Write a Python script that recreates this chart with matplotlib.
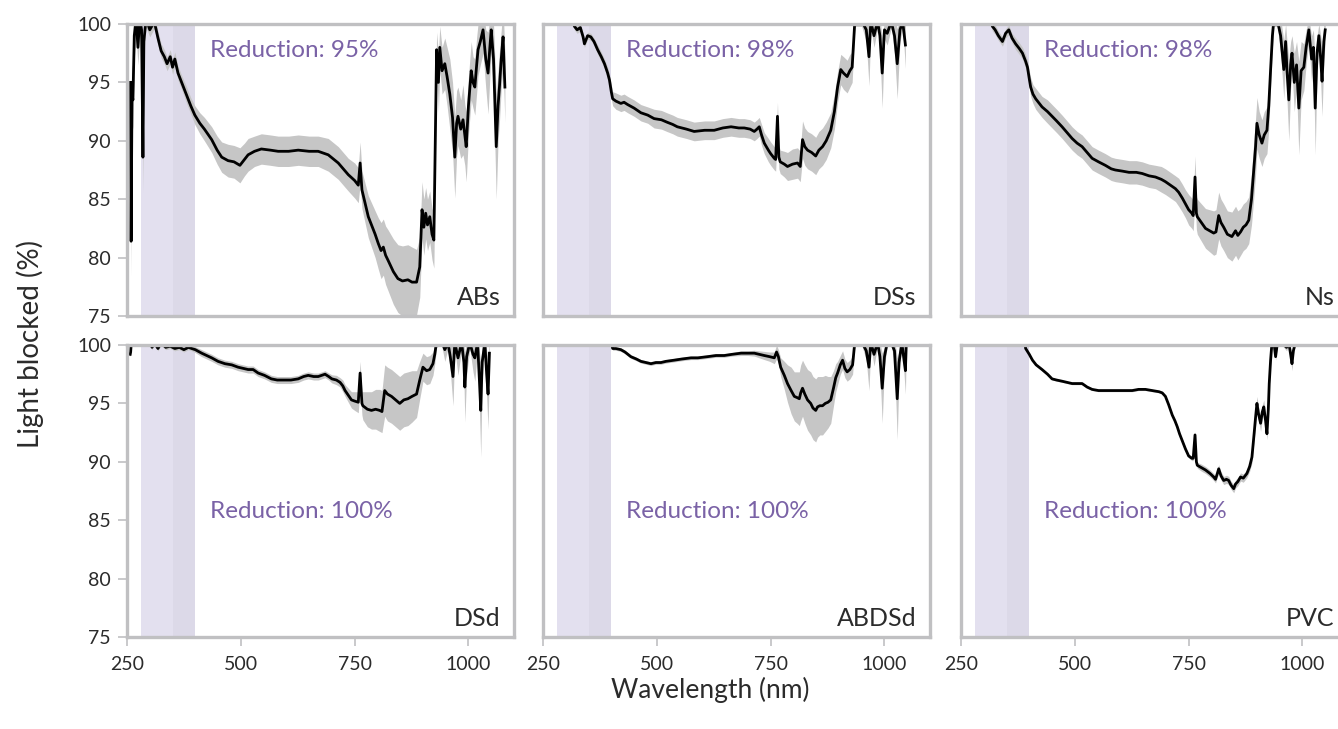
import numpy as np
import matplotlib
matplotlib.use('Agg')
import matplotlib.pyplot as plt

plt.rcParams['font.family'] = ['Lato', 'DejaVu Sans']
plt.rcParams['font.weight'] = 'normal'

# ABs
abs_wl = [258, 259, 261, 263, 266, 270, 274, 278, 282, 285,
          287, 292, 300, 310, 318, 325, 332, 338, 345, 350,
          355, 362, 370, 380, 390, 399, 410, 420, 436, 448,
          458, 472, 485, 498, 508, 516, 530, 545, 565, 582,
          605, 626, 650, 670, 692, 714, 736, 750, 758, 762,
          766, 780, 795, 802, 808, 813, 818, 823, 835, 845,
          855, 867, 876, 886, 893, 898, 902, 906, 910, 915,
          920, 924, 930, 934, 937, 942, 948, 953, 959, 965,
          970, 974, 977, 983, 988, 992, 995, 1000, 1006, 1010,
          1014, 1018, 1021, 1026, 1032, 1038, 1043, 1047, 1050, 1055,
          1061, 1065, 1068, 1072, 1076, 1080]
abs_mean = [95.0, 81.4, 94.0, 93.5, 99.0, 100.5, 98.0, 100.5, 99.5, 88.6,
            98.5, 100.5, 99.5, 100.2, 98.8, 97.7, 97.2, 96.6, 97.2, 96.3,
            97.0, 95.8, 95.0, 94.0, 93.0, 92.2, 91.5, 91.0, 90.1, 89.2,
            88.6, 88.3, 88.2, 87.9, 88.4, 88.8, 89.1, 89.3, 89.2, 89.1,
            89.1, 89.2, 89.1, 89.1, 88.8, 88.1, 87.1, 86.6, 86.2, 88.1,
            85.8, 83.5, 82.0, 81.2, 80.6, 80.9, 80.2, 79.8, 78.8, 78.2,
            78.0, 78.1, 77.9, 77.9, 79.2, 84.1, 82.6, 83.8, 82.8, 83.5,
            82.0, 81.5, 97.8, 95.0, 98.0, 96.0, 96.6, 95.5, 94.0, 92.0,
            88.6, 91.5, 92.1, 91.0, 91.8, 90.5, 89.5, 93.0, 96.0, 95.0,
            94.6, 96.5, 97.8, 98.5, 99.5, 97.0, 95.8, 98.0, 99.5, 97.0,
            89.5, 93.0, 94.6, 97.0, 98.9, 94.6]
abs_sd = [3.0, 3.0, 2.5, 2.5, 2.0, 1.5, 1.5, 1.5, 1.2, 3.0,
          1.0, 0.8, 0.6, 0.6, 0.6, 0.6, 0.6, 0.6, 0.6, 0.6,
          0.6, 0.6, 0.6, 0.7, 0.7, 0.8, 0.9, 1.0, 1.1, 1.2,
          1.3, 1.4, 1.4, 1.5, 1.4, 1.4, 1.3, 1.3, 1.3, 1.3,
          1.3, 1.3, 1.3, 1.3, 1.4, 1.4, 1.4, 1.5, 1.5, 1.8,
          1.6, 1.8, 2.0, 2.2, 2.4, 2.4, 2.5, 2.6, 2.8, 2.9,
          3.0, 3.0, 3.0, 2.8, 2.6, 2.4, 2.4, 2.2, 2.2, 2.2,
          2.2, 2.4, 1.5, 2.5, 1.8, 2.0, 2.2, 2.5, 3.0, 3.0,
          3.5, 2.8, 2.5, 2.5, 3.0, 2.6, 3.0, 2.5, 2.5, 2.2,
          2.4, 2.4, 2.2, 2.0, 2.0, 2.5, 3.5, 2.5, 2.0, 3.0,
          4.5, 3.0, 3.0, 2.5, 2.5, 3.0]

# DSs
dss_wl = [315, 319, 325, 332, 338, 341, 348, 355, 362, 370,
          378, 385, 392, 396, 400, 403, 410, 421, 428, 436,
          450, 465, 480, 494, 510, 522, 535, 545, 565, 582,
          605, 626, 645, 663, 680, 692, 705, 714, 720, 725,
          730, 736, 745, 750, 758, 761, 765, 768, 771, 780,
          787, 798, 809, 815, 820, 825, 831, 840, 849, 856,
          864, 872, 882, 890, 897, 904, 910, 918, 924, 929,
          935, 950, 960, 966, 970, 977, 985, 990, 995, 1000,
          1006, 1015, 1022, 1028, 1034, 1040, 1046]
dss_mean = [100.3, 99.8, 99.5, 99.7, 98.9, 98.3, 99.0, 98.9, 98.5, 97.8,
            97.2, 96.6, 95.8, 95.2, 94.2, 93.6, 93.4, 93.2, 93.3, 93.1,
            92.8, 92.4, 92.2, 91.9, 91.8, 91.6, 91.4, 91.2, 91.0, 90.8,
            90.9, 90.9, 91.1, 91.2, 91.1, 91.1, 91.0, 90.8, 91.0, 91.2,
            90.5, 89.8, 89.2, 88.9, 88.5, 88.4, 92.1, 88.6, 88.2, 88.0,
            87.8, 88.0, 88.1, 87.8, 90.1, 89.5, 89.2, 89.0, 88.7, 89.2,
            89.5, 90.0, 90.9, 92.5, 94.6, 96.1, 95.8, 95.5, 96.0, 96.3,
            100.3, 100.3, 99.5, 97.2, 100.2, 99.0, 100.2, 99.0, 95.8, 99.5,
            99.2, 100.2, 99.0, 96.6, 99.5, 100.2, 98.2]
dss_sd = [0.3, 0.3, 0.3, 0.3, 0.3, 0.3, 0.3, 0.3, 0.3, 0.4,
          0.4, 0.4, 0.5, 0.5, 0.6, 0.6, 0.7, 0.7, 0.7, 0.7,
          0.7, 0.7, 0.7, 0.8, 0.8, 0.8, 0.8, 0.8, 0.8, 0.8,
          0.8, 0.8, 0.8, 0.8, 0.8, 0.8, 0.8, 0.8, 0.8, 0.8,
          0.9, 0.9, 1.0, 1.0, 1.0, 1.0, 1.2, 1.0, 1.0, 1.1,
          1.2, 1.3, 1.3, 1.3, 1.6, 1.6, 1.6, 1.6, 1.6, 1.6,
          1.6, 1.6, 1.5, 1.5, 1.3, 1.3, 1.4, 1.4, 1.4, 1.3,
          0.5, 0.5, 1.0, 2.5, 0.5, 1.0, 0.5, 1.5, 3.0, 0.8,
          1.0, 0.5, 1.5, 3.0, 1.0, 0.5, 2.0]

# Ns
ns_wl = [315, 319, 325, 332, 341, 348, 355, 362, 370, 378,
         385, 392, 396, 400, 403, 408, 414, 420, 428, 440,
         450, 460, 472, 483, 494, 505, 516, 527, 538, 552,
         567, 580, 589, 605, 619, 635, 648, 663, 677, 690,
         699, 710, 721, 728, 736, 743, 750, 757, 760, 764,
         767, 769, 778, 787, 796, 805, 810, 816, 821, 827,
         835, 845, 853, 858, 864, 870, 876, 882, 888, 893,
         897, 900, 905, 911, 916, 922, 926, 930, 934, 937,
         945, 952, 959, 963, 966, 970, 974, 977, 982, 987,
         992, 997, 1003, 1008, 1014, 1020, 1024, 1028, 1032, 1036,
         1040, 1043, 1047, 1050]
ns_mean = [100.3, 99.8, 99.5, 99.0, 98.5, 99.2, 99.5, 98.8, 98.3, 97.9,
           97.5, 96.8, 96.3, 95.3, 94.6, 94.0, 93.6, 93.3, 92.9, 92.5,
           92.1, 91.7, 91.2, 90.7, 90.2, 89.8, 89.5, 89.0, 88.5, 88.2,
           87.9, 87.6, 87.5, 87.4, 87.3, 87.3, 87.2, 87.0, 86.9, 86.7,
           86.5, 86.2, 85.9, 85.6, 85.1, 84.6, 84.1, 83.8, 83.6, 86.9,
           83.8, 83.5, 83.0, 82.5, 82.3, 82.1, 82.2, 83.6, 83.0, 82.6,
           82.0, 81.8, 82.3, 81.9, 82.2, 82.6, 82.8, 83.2, 85.0, 87.5,
           89.5, 91.5, 90.5, 89.8, 90.5, 90.9, 93.0, 96.1, 99.0, 100.3,
           100.3, 99.0, 96.1, 98.5, 96.0, 93.5, 96.5, 97.5, 95.0, 96.5,
           92.8, 96.0, 96.3, 98.0, 99.5, 97.0, 98.0, 92.8, 97.5, 99.0,
           97.0, 95.1, 98.5, 99.5]
ns_sd = [0.4, 0.4, 0.4, 0.4, 0.4, 0.4, 0.4, 0.4, 0.5, 0.5,
         0.5, 0.6, 0.6, 0.7, 0.8, 0.8, 0.9, 0.9, 0.9, 1.0,
         1.0, 1.0, 1.0, 1.0, 1.0, 1.0, 1.0, 1.0, 1.0, 1.0,
         1.0, 1.0, 1.0, 1.0, 1.0, 1.0, 1.0, 1.0, 1.0, 1.1,
         1.1, 1.1, 1.1, 1.2, 1.2, 1.2, 1.3, 1.3, 1.3, 1.8,
         1.4, 1.5, 1.6, 1.7, 1.8, 1.9, 1.9, 2.0, 2.0, 2.0,
         2.0, 2.1, 2.1, 2.1, 2.0, 2.0, 2.0, 2.0, 2.2, 2.4,
         2.4, 2.2, 2.0, 2.0, 2.0, 2.0, 2.0, 1.5, 1.0, 0.5,
         0.5, 1.5, 2.5, 1.5, 2.5, 3.5, 2.0, 1.5, 2.5, 2.0,
         4.0, 2.5, 2.0, 1.5, 1.0, 2.0, 1.5, 4.0, 1.5, 1.0,
         2.0, 3.0, 1.5, 1.0]

# DSd
dsd_wl = [257, 258, 260, 300, 305, 310, 318, 325, 335, 345,
          355, 365, 375, 385, 392, 400, 414, 425, 436, 450,
          465, 480, 494, 505, 516, 527, 538, 552, 567, 580,
          597, 610, 626, 638, 648, 660, 670, 685, 693, 700,
          710, 718, 724, 729, 736, 743, 750, 758, 762, 766,
          768, 778, 787, 796, 805, 810, 816, 822, 831, 840,
          849, 858, 867, 876, 886, 893, 900, 908, 915, 922,
          926, 930, 940, 948, 955, 960, 966, 970, 977, 985,
          990, 992, 996, 1003, 1010, 1014, 1020, 1024, 1027, 1030,
          1036, 1040, 1043, 1046]
dsd_mean = [99.2, 99.4, 100.5, 100.5, 99.8, 100.2, 99.7, 100.2, 99.8, 99.9,
            99.7, 99.8, 99.6, 99.8, 99.7, 99.6, 99.3, 99.1, 98.9, 98.6,
            98.4, 98.3, 98.1, 98.0, 97.9, 97.9, 97.6, 97.4, 97.1, 97.0,
            97.0, 97.0, 97.1, 97.3, 97.4, 97.3, 97.3, 97.5, 97.3, 97.1,
            97.0, 96.8, 96.5, 96.1, 95.7, 95.3, 95.2, 95.1, 97.6, 95.0,
            94.8, 94.5, 94.4, 94.5, 94.4, 94.3, 96.1, 95.8, 95.6, 95.3,
            95.0, 95.3, 95.4, 95.6, 95.8, 97.0, 98.1, 97.8, 97.9, 98.4,
            99.2, 100.3, 100.5, 99.6, 100.2, 99.0, 97.3, 100.2, 98.9, 100.2,
            98.5, 96.4, 99.0, 100.2, 99.2, 98.9, 100.2, 97.0, 94.4, 98.5,
            100.2, 97.5, 95.8, 99.3]
dsd_sd = [0.2, 0.2, 0.2, 0.2, 0.2, 0.2, 0.2, 0.2, 0.2, 0.2,
          0.2, 0.2, 0.2, 0.2, 0.2, 0.25, 0.3, 0.3, 0.3, 0.3,
          0.3, 0.3, 0.3, 0.3, 0.3, 0.3, 0.3, 0.3, 0.3, 0.3,
          0.3, 0.3, 0.3, 0.3, 0.3, 0.3, 0.3, 0.3, 0.3, 0.35,
          0.4, 0.4, 0.5, 0.5, 0.6, 0.7, 0.8, 0.9, 1.0, 1.0,
          1.2, 1.5, 1.6, 1.7, 1.8, 1.8, 2.2, 2.3, 2.3, 2.3,
          2.3, 2.3, 2.3, 2.2, 2.0, 1.6, 1.2, 1.2, 1.2, 1.0,
          0.8, 0.5, 0.3, 1.0, 0.5, 1.2, 2.5, 0.5, 1.5, 0.5,
          1.5, 3.0, 1.5, 0.5, 1.5, 2.0, 0.5, 2.5, 4.0, 1.5,
          0.5, 2.0, 3.0, 1.0]

# ABDSd
abdsd_wl = [400, 403, 410, 421, 430, 443, 455, 465, 476, 487,
            498, 509, 520, 538, 555, 575, 590, 611, 630, 648,
            665, 685, 700, 714, 725, 736, 748, 758, 763, 767,
            772, 780, 787, 795, 802, 808, 813, 816, 820, 825,
            831, 838, 843, 849, 853, 858, 864, 870, 876, 882,
            888, 893, 897, 903, 908, 913, 918, 924, 930, 933,
            935, 950, 960, 966, 970, 977, 985, 990, 995, 1000,
            1006, 1015, 1022, 1028, 1032, 1038, 1042, 1046, 1048]
abdsd_mean = [100.3, 99.7, 99.7, 99.6, 99.4, 99.0, 98.8, 98.6, 98.5, 98.4,
              98.5, 98.5, 98.6, 98.7, 98.8, 98.9, 98.9, 99.0, 99.1, 99.1,
              99.2, 99.3, 99.3, 99.3, 99.2, 99.1, 99.0, 98.9, 99.4, 99.0,
              98.1, 97.4, 96.7, 96.1, 95.6, 95.5, 95.4, 95.9, 96.3, 95.8,
              95.3, 95.0, 94.6, 94.4, 94.7, 94.8, 94.8, 95.0, 95.1, 95.3,
              96.3, 97.2, 97.6, 98.3, 98.7, 98.0, 97.7, 97.9, 98.3, 99.5,
              100.3, 100.3, 99.5, 98.1, 100.2, 99.2, 100.2, 99.0, 96.3, 99.0,
              100.2, 100.2, 99.5, 95.4, 98.5, 100.2, 99.0, 97.8, 100.2]
abdsd_sd = [0.15, 0.15, 0.15, 0.15, 0.15, 0.15, 0.15, 0.15, 0.15, 0.15,
            0.15, 0.15, 0.15, 0.15, 0.15, 0.15, 0.15, 0.15, 0.15, 0.15,
            0.15, 0.2, 0.2, 0.25, 0.3, 0.35, 0.4, 0.5, 0.6, 0.6,
            0.8, 1.2, 1.6, 2.0, 2.1, 2.2, 2.3, 2.4, 2.4, 2.5,
            2.6, 2.7, 2.7, 2.7, 2.6, 2.5, 2.5, 2.4, 2.2, 2.0,
            1.5, 1.2, 1.0, 0.8, 0.8, 0.8, 0.8, 0.8, 0.8, 0.5,
            0.3, 0.3, 0.8, 2.0, 0.3, 1.0, 0.3, 1.2, 3.0, 0.8,
            0.3, 0.3, 1.0, 3.5, 1.0, 0.3, 1.0, 2.0, 0.3]

# PVC
pvc_wl = [390, 392, 400, 407, 415, 428, 440, 450, 460, 472,
          483, 494, 505, 516, 527, 538, 552, 567, 582, 597,
          611, 626, 640, 655, 670, 685, 692, 699, 706, 714,
          720, 725, 730, 736, 743, 750, 757, 760, 764, 767,
          769, 778, 787, 797, 805, 809, 813, 816, 821, 827,
          833, 838, 843, 849, 853, 858, 864, 870, 878, 884,
          889, 894, 897, 900, 903, 908, 912, 915, 919, 922,
          925, 927, 930, 933, 937, 941, 945, 955, 965, 970,
          974, 977, 980, 985]
pvc_mean = [100.3, 99.7, 99.2, 98.7, 98.3, 97.9, 97.5, 97.1, 97.0, 96.9,
            96.8, 96.7, 96.7, 96.7, 96.4, 96.2, 96.1, 96.1, 96.1, 96.1,
            96.1, 96.1, 96.2, 96.2, 96.1, 96.0, 95.9, 95.6, 94.9, 94.0,
            93.5, 93.0, 92.4, 91.8, 91.1, 90.5, 90.3, 90.3, 92.3, 90.0,
            89.7, 89.5, 89.3, 89.0, 88.7, 88.5, 89.0, 89.4, 88.8, 88.4,
            88.5, 88.4, 88.0, 87.7, 88.1, 88.3, 88.7, 88.6, 89.0, 89.6,
            90.4, 92.5, 93.8, 95.0, 94.2, 93.3, 94.3, 94.7, 93.5, 92.4,
            94.5, 96.7, 98.7, 100.2, 100.3, 99.0, 100.2, 100.2, 99.8, 100.2,
            99.2, 98.4, 99.5, 100.3]
pvc_sd = [0.1, 0.1, 0.1, 0.1, 0.1, 0.1, 0.1, 0.1, 0.1, 0.1,
          0.1, 0.1, 0.1, 0.1, 0.1, 0.1, 0.1, 0.1, 0.1, 0.1,
          0.1, 0.1, 0.1, 0.1, 0.1, 0.1, 0.1, 0.1, 0.1, 0.1,
          0.12, 0.12, 0.12, 0.15, 0.15, 0.15, 0.2, 0.2, 0.3, 0.2,
          0.25, 0.3, 0.3, 0.3, 0.3, 0.3, 0.35, 0.35, 0.35, 0.35,
          0.35, 0.35, 0.35, 0.35, 0.35, 0.35, 0.35, 0.35, 0.35, 0.4,
          0.5, 0.6, 0.7, 0.6, 0.6, 0.7, 0.6, 0.6, 0.6, 0.5,
          0.5, 0.5, 0.3, 0.2, 0.2, 0.3, 0.2, 0.2, 0.3, 0.2,
          0.5, 0.6, 0.3, 0.2]

materials = ['ABs', 'DSs', 'Ns', 'DSd', 'ABDSd', 'PVC']
reductions = [95, 98, 98, 100, 100, 100]
series = [(abs_wl, abs_mean, abs_sd), (dss_wl, dss_mean, dss_sd),
          (ns_wl, ns_mean, ns_sd), (dsd_wl, dsd_mean, dsd_sd),
          (abdsd_wl, abdsd_mean, abdsd_sd), (pvc_wl, pvc_mean, pvc_sd)]

# UV-B and UV-A bands
uvb = (280, 350)
uva = (350, 400)

spine_col = '#c0c0c2'
text_col = '#2b2b2b'
purple = '#7a62a6'

W, H = 1338, 729
fig = plt.figure(figsize=(W / 100, H / 100), dpi=100)

lefts = [127, 543, 961]
rows = [(24, 316), (345, 637)]
width = 387

for i, (name, red, (wl, mean, sd)) in enumerate(zip(materials, reductions, series)):
    r, c = divmod(i, 3)
    top, bot = rows[r]
    ax = fig.add_axes([lefts[c] / W, 1 - bot / H, width / W, (bot - top) / H])

    wl = np.array(wl)
    mean = np.array(mean)
    sd = np.array(sd)

    ax.axvspan(*uvb, color='#e3e0ef', lw=0, zorder=0)
    ax.axvspan(*uva, color='#dcd9e8', lw=0, zorder=0)
    ax.fill_between(wl, mean - sd, mean + sd, color='#c6c6c6', lw=0, zorder=1)
    ax.plot(wl, mean, color='black', lw=2.0, zorder=2)

    ax.set_xlim(250, 1100)
    ax.set_ylim(75, 100)
    for sp in ax.spines.values():
        sp.set_color(spine_col)
        sp.set_linewidth(2.4)

    ax.tick_params(colors=spine_col, labelcolor=text_col, length=6.5, width=1.2,
                   labelsize=14, direction='out')
    ax.tick_params(axis='y', pad=5)
    ax.tick_params(axis='x', pad=7)
    ax.set_xticks([250, 500, 750, 1000])
    ax.set_yticks([75, 80, 85, 90, 95, 100])
    if r == 0:
        ax.tick_params(axis='x', bottom=False, labelbottom=False)
    if c != 0:
        ax.tick_params(axis='y', left=False, labelleft=False)

    ty = 0.91 if r == 0 else 0.43
    ax.text(0.215, ty, f'Reduction: {red}%', transform=ax.transAxes,
            ha='left', va='center', color=purple, fontsize=17.5)
    ax.text(0.965, 0.065, name, transform=ax.transAxes,
            ha='right', va='center', color=text_col, fontsize=18)

fig.text(30 / W, 1 - 344 / H, 'Light blocked (%)', rotation=90,
         ha='center', va='center', fontsize=20, color=text_col)
fig.text(710 / W, 1 - 690 / H, 'Wavelength (nm)', ha='center', va='center',
         fontsize=19, color=text_col)

fig.savefig('out.png', dpi=100)
